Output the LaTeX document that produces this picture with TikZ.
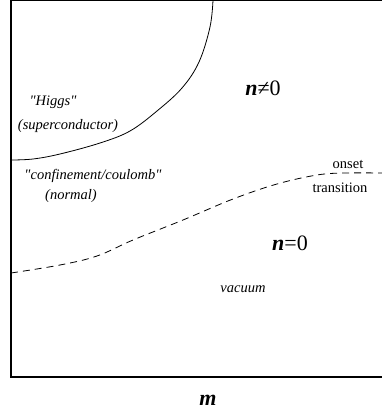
\documentclass[tikz,border=0pt]{standalone}
\usepackage{fontspec}
\setmainfont{Liberation Serif}[Ligatures=TeXOff]
\begin{document}
\begin{tikzpicture}[x=1pt,y=-1pt,
  small/.style={font=\fontsize{14.5}{16}\selectfont, inner sep=0pt},
  smallit/.style={font=\fontsize{14.5}{16}\selectfont\itshape, inner sep=0pt},
  big/.style={font=\fontsize{22}{24}\selectfont, inner sep=0pt},
  frame/.style={line width=1.1pt},
  curve/.style={line width=0.8pt}]
\useasboundingbox (0,0) rectangle (382,415);
% frame
\draw[frame] (382,0.5) -- (11,0.5) -- (11,377) -- (382,377);
% solid phase boundary
\draw[curve] plot[smooth, tension=0.6] coordinates {(213,0) (210,27) (199,62) (182,88) (157,111) (130,131) (100,143) (60,154) (33,159) (11,160)};
% dashed onset line
\draw[curve, dash pattern=on 7pt off 5pt] plot[smooth, tension=0.6] coordinates {(11,273) (60,265) (97,256) (133,240) (183,220) (233,199) (277,184) (317,175) (345,173) (382,173)};
% labels
\node[big] (nne) at (263,88) {\textbf{\textit{n}}≠0};
\node[big] (neq) at (290,243) {\textbf{\textit{n}}=0};
\node[smallit] (higgs) at (53,102) {"Higgs"};
\node[smallit] (super) at (68,126) {(superconductor)};
\node[smallit] (conf) at (93,176) {"confinement/coulomb"};
\node[smallit] (normal) at (71,196) {(normal)};
\node[small] (onset) at (348,164) {onset};
\node[small] (trans) at (340,188) {transition};
\node[smallit] (vac) at (243,289) {vacuum};
\node[big] (m) at (208,400) {\textbf{\textit{m}}};
\end{tikzpicture}
\end{document}
